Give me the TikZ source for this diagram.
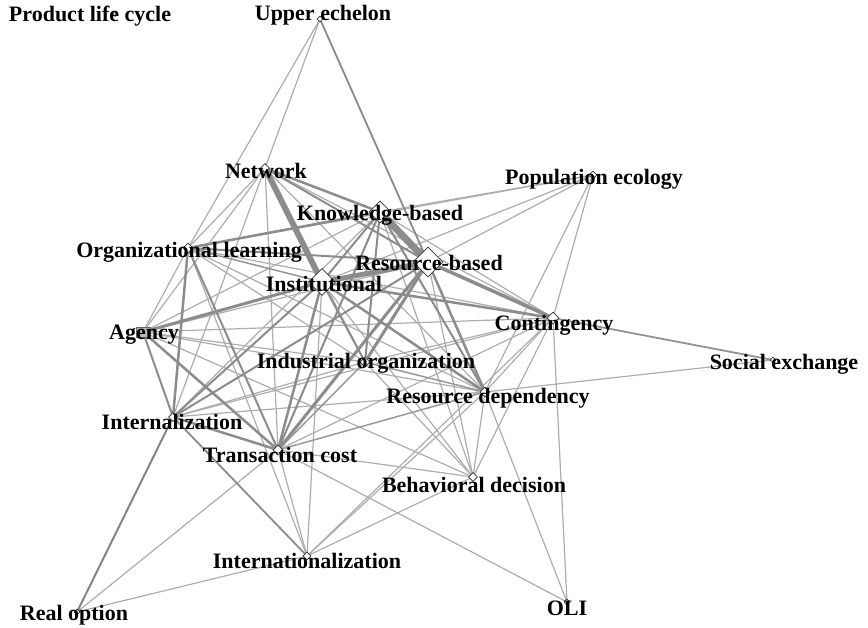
\documentclass[tikz,border=0pt]{standalone}
\usepackage{fontspec}
\setmainfont{Liberation Serif}
\usetikzlibrary{shapes.geometric, backgrounds}

\begin{document}
\begin{tikzpicture}[
    x = 1pt, y = -1pt,
    theory/.style = {diamond, draw=black!80, fill=white, line width=0.6pt,
        inner sep=0pt, minimum size=#1},
    sqr/.style = {rectangle, draw=black!60, fill=black!28, line width=0.6pt,
        inner sep=0pt, minimum width=14pt, minimum height=10pt},
    lbl/.style = {font=\fontsize{22}{22}\selectfont\bfseries, inner sep=0pt},
    tie/.style = {line width=#1, line cap=round}
  ]
  \useasboundingbox (0,0) rectangle (868,628);

  % theories
  \foreach \id/\x/\y/\s/\lx/\ly/\txt in {
      PLC/115/14/5/90/16/Product life cycle,
      UE/320/19/6/323/15/Upper echelon,
      NW/265/168/9/266/171/Network,
      PE/593/175/8/594/179/Population ecology,
      KB/380/212/22/380/215/Knowledge-based,
      OL/188/248/10/189/252/Organizational learning,
      RB/428/262/30/429/263/Resource-based,
      INS/322/282/27/324/284/Institutional,
      CON/553/318/12/554/325/Contingency,
      IO/365/362/10/366/363/Industrial organization,
      SE/773/360/6/784/364/Social exchange,
      RD/485/392/10/488/398/Resource dependency,
      IZ/173/417/9/172/422/Internalization,
      TC/278/450/10/280/455/Transaction cost,
      BD/473/477/9/474/485/Behavioral decision,
      INZ/307/556/8/307/561/Internationalization,
      OLI/567/602/6/567/608/OLI,
      RO/77/612/6/74/615/Real option}
  {
    \node[theory=\s pt] (\id) at (\x,\y) {};
    \node[lbl] (\id-lbl) at (\lx,\ly) {\txt};
  }
  \node[sqr] (AG) at (143,332) {};
  \node[lbl] (AG-lbl) at (144,335) {Agency};

  % ties
  \begin{scope}[on background layer]
    \foreach \a/\b/\w/\g in {
        UE/OL/1.2/32, UE/NW/1.2/32, NW/OL/1.2/32, NW/AG/1.2/32, NW/IZ/1.2/32,
        NW/TC/1.2/32, NW/CON/1.2/32, NW/RD/1.2/32, NW/IO/1.2/32,
        OL/AG/1.2/32, OL/RD/1.2/32, OL/IO/1.2/32, OL/CON/1.2/32, OL/PE/1.2/32,
        AG/IO/1.2/32, AG/RD/1.2/32, AG/KB/1.2/32, AG/RB/1.2/32, AG/BD/1.2/32,
        AG/CON/1.2/32, KB/CON/1.2/32, KB/BD/1.2/32, KB/PE/1.2/32, KB/IZ/1.2/32,
        RB/PE/1.2/32, RB/BD/1.2/32, INS/PE/1.2/32, INS/BD/1.2/32, INS/INZ/1.2/32,
        IO/CON/1.2/32, IO/BD/1.2/32, IO/IZ/1.2/32, TC/CON/1.2/32, TC/BD/1.2/32,
        TC/OLI/1.2/32, TC/INZ/1.2/32, TC/RO/1.2/32, IZ/RD/1.2/32, IZ/CON/1.2/32,
        CON/RD/1.2/32, CON/BD/1.2/32, CON/OLI/1.2/32, CON/PE/1.2/32,
        CON/INZ/1.2/32, RD/SE/1.2/32, RD/BD/1.2/32, RD/OLI/1.2/32, RD/PE/1.2/32,
        RD/INZ/1.2/32, BD/INZ/1.2/32, INZ/OL/1.2/32, RO/INZ/1.2/32,
        UE/RB/1.8/45, CON/SE/1.8/42, IZ/RO/2/48, INZ/IZ/1.8/45,
        TC/RD/1.5/40, IO/RD/1.5/40, IO/TC/1.5/40,
        OL/RB/2/45, OL/TC/2/45, OL/INS/1.5/42,
        KB/INS/2/45, AG/IZ/2/45, IZ/RB/2/45, INS/IO/2/45, KB/IO/2/45,
        KB/TC/2/45, INS/IZ/2/45, INS/TC/2.5/45, INS/CON/2.5/45,
        RB/RD/2.5/45, KB/RD/2/45, NW/RB/2/45, NW/KB/2.5/45, OL/IZ/2.5/45,
        IZ/TC/2.5/45, AG/TC/2.5/45, INS/RD/2.5/45, OL/KB/2.5/45,
        INS/AG/3/45, RB/TC/3/45, RB/IO/3/45, RB/CON/3.5/45,
        INS/RB/5/45, KB/RB/7/45, NW/INS/6/45}
      \draw[tie=\w pt, draw=black!\g] (\a.center) -- (\b.center);
  \end{scope}
\end{tikzpicture}
\end{document}
